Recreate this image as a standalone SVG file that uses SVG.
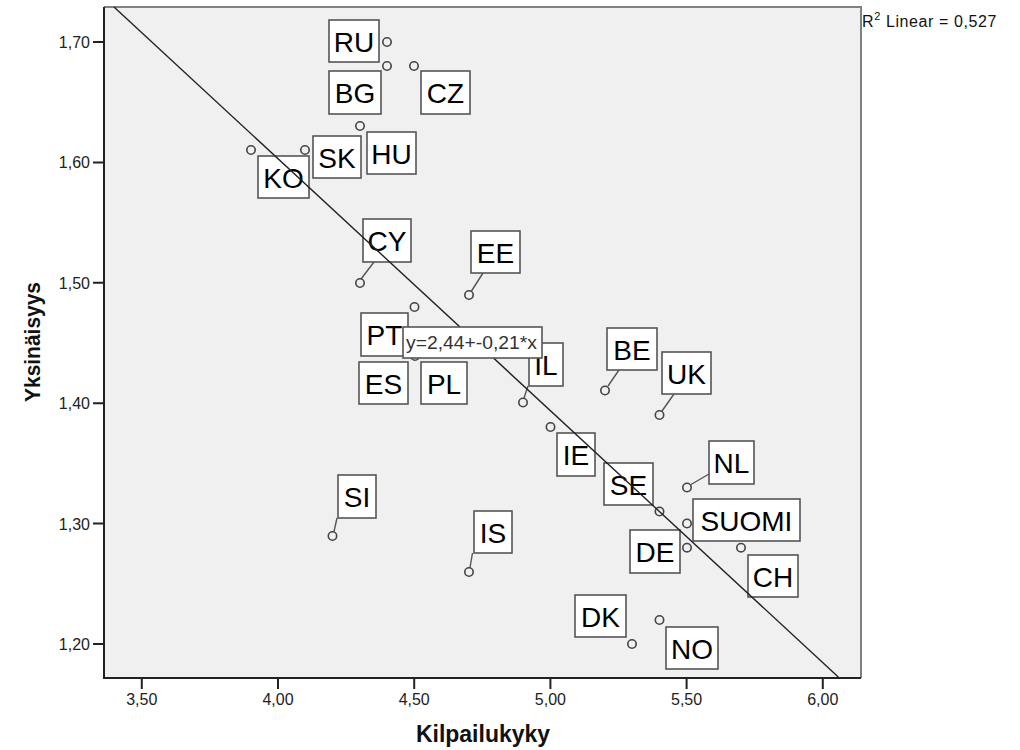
<svg xmlns="http://www.w3.org/2000/svg" width="1020" height="750" viewBox="0 0 1020 750">
<style>
.pt{fill:none;stroke:#444;stroke-width:1.6}
.lb rect{fill:#fff;stroke:#555;stroke-width:1.6}
.lb text{font-family:"Liberation Sans",Arial,sans-serif;font-size:28px;fill:#000;text-anchor:middle}
.tick{stroke:#222;stroke-width:2}
.tl{font-family:"Liberation Sans",Arial,sans-serif;font-size:16px;fill:#222}
.lead{stroke:#555;stroke-width:1.4;fill:none}
.title{font-family:"Liberation Sans",Arial,sans-serif;font-weight:bold;fill:#111}
</style>
<rect width="1020" height="750" fill="#fff"/>
<g id="frame">
<rect x="104" y="7" width="757" height="671" fill="#f0f0f0"/>
<path d="M104,7 H861 V678" fill="none" stroke="#808080" stroke-width="2"/>
<path d="M104,7 V678 H861" fill="none" stroke="#222" stroke-width="2"/>
</g>
<g id="y-axis">
<path class="tick" d="M93,42H104M93,162.4H104M93,282.8H104M93,403.2H104M93,523.6H104M93,644H104"/>
<g class="tl" text-anchor="end">
<text x="90" y="48">1,70</text>
<text x="90" y="168.4">1,60</text>
<text x="90" y="288.8">1,50</text>
<text x="90" y="409.2">1,40</text>
<text x="90" y="529.6">1,30</text>
<text x="90" y="650">1,20</text>
</g>
<text class="title" x="40" y="342" font-size="22" text-anchor="middle" textLength="120" lengthAdjust="spacingAndGlyphs" transform="rotate(-90 40 342)">Yksinäisyys</text>
</g>
<g id="x-axis">
<path class="tick" d="M141.8,678V689M278,678V689M414.2,678V689M550.4,678V689M686.6,678V689M822.8,678V689"/>
<g class="tl" text-anchor="middle">
<text x="141.8" y="705">3,50</text>
<text x="278" y="705">4,00</text>
<text x="414.2" y="705">4,50</text>
<text x="550.4" y="705">5,00</text>
<text x="686.6" y="705">5,50</text>
<text x="822.8" y="705">6,00</text>
</g>
<text class="title" x="483" y="742" font-size="23" text-anchor="middle">Kilpailukyky</text>
</g>
<g id="connectors">
<path class="lead" d="M361,279L374,262M471.5,291L483,273M524,398L528,386M608,386L619,370M662,411L674,394M691,484.5L709,474M334,531.5L337,518M470,567.5L472.5,553"/>
</g>
<g id="RU" class="lb"><circle class="pt" cx="387" cy="42" r="4.2"/><rect x="329" y="20" width="50" height="42"/><text x="354" y="51.5">RU</text></g>
<g id="BG" class="lb"><circle class="pt" cx="387" cy="66" r="4.2"/><rect x="329" y="71" width="52" height="43"/><text x="355" y="102.5">BG</text></g>
<g id="CZ" class="lb"><circle class="pt" cx="414" cy="66" r="4.2"/><rect x="421" y="71" width="49" height="43"/><text x="445.5" y="102.5">CZ</text></g>
<g id="HU" class="lb"><circle class="pt" cx="360" cy="126" r="4.2"/><rect x="367" y="132" width="49" height="42"/><text x="391.5" y="163.5">HU</text></g>
<g id="SK" class="lb"><circle class="pt" cx="305" cy="150" r="4.2"/><rect x="313" y="136" width="48" height="42"/><text x="337" y="167.5">SK</text></g>
<g id="KO" class="lb"><circle class="pt" cx="251" cy="150" r="4.2"/><rect x="258" y="156" width="51" height="42"/><text x="283.5" y="187.5">KO</text></g>
<g id="CY" class="lb"><circle class="pt" cx="360" cy="283" r="4.2"/><rect x="363" y="219" width="48" height="43"/><text x="387" y="250.5">CY</text></g>
<g id="EE" class="lb"><circle class="pt" cx="469" cy="295" r="4.2"/><rect x="471" y="231" width="49" height="42"/><text x="495.5" y="262.5">EE</text></g>
<g id="PT" class="lb"><circle class="pt" cx="414.5" cy="307" r="4.2"/><rect x="361" y="313" width="47" height="43"/><text x="384.5" y="344.5">PT</text></g>
<g id="ES" class="lb"><circle class="pt" cx="415" cy="356" r="4.2"/><rect x="359" y="362" width="49" height="42"/><text x="383.5" y="393.5">ES</text></g>
<g id="PL" class="lb"><rect x="421" y="362" width="46" height="42"/><text x="444" y="393.5">PL</text></g>
<g id="IL" class="lb"><circle class="pt" cx="523" cy="402.5" r="4.2"/><rect x="529" y="343" width="34" height="43"/><text x="546" y="374.5">IL</text></g>
<g id="IE" class="lb"><circle class="pt" cx="550.5" cy="427" r="4.2"/><rect x="557" y="433" width="38" height="43"/><text x="576" y="464.5">IE</text></g>
<g id="BE" class="lb"><circle class="pt" cx="605" cy="390.5" r="4.2"/><rect x="607" y="328" width="50" height="42"/><text x="632" y="359.5">BE</text></g>
<g id="UK" class="lb"><circle class="pt" cx="659.5" cy="415" r="4.2"/><rect x="662" y="352" width="49" height="42"/><text x="686.5" y="383.5">UK</text></g>
<g id="NL" class="lb"><circle class="pt" cx="687" cy="487.5" r="4.2"/><rect x="709" y="441" width="45" height="43"/><text x="731.5" y="472.5">NL</text></g>
<g id="SE" class="lb"><circle class="pt" cx="659.5" cy="511.5" r="4.2"/><rect x="604" y="463" width="49" height="42"/><text x="628.5" y="494.5">SE</text></g>
<g id="SUOMI" class="lb"><circle class="pt" cx="687" cy="523.5" r="4.2"/><rect x="693" y="499" width="107" height="42"/><text x="746.5" y="530.5">SUOMI</text></g>
<g id="DE" class="lb"><circle class="pt" cx="687" cy="547.7" r="4.2"/><rect x="630" y="530" width="50" height="43"/><text x="655" y="561.5">DE</text></g>
<g id="CH" class="lb"><circle class="pt" cx="741" cy="547.7" r="4.2"/><rect x="748" y="555" width="50" height="42"/><text x="773" y="586.5">CH</text></g>
<g id="SI" class="lb"><circle class="pt" cx="332.5" cy="536" r="4.2"/><rect x="338" y="475" width="38" height="43"/><text x="357" y="506.5">SI</text></g>
<g id="IS" class="lb"><circle class="pt" cx="469" cy="572" r="4.2"/><rect x="474" y="511" width="38" height="42"/><text x="493" y="542.5">IS</text></g>
<g id="DK" class="lb"><circle class="pt" cx="632" cy="644" r="4.2"/><rect x="575" y="595" width="51" height="42"/><text x="600.5" y="626.5">DK</text></g>
<g id="NO" class="lb"><circle class="pt" cx="659.5" cy="620" r="4.2"/><rect x="666" y="627" width="52" height="42"/><text x="692" y="658.5">NO</text></g>
<g id="fit-line">
<line x1="114" y1="7" x2="838.3" y2="677" stroke="#222" stroke-width="1.4"/>
</g>
<g id="equation">
<rect x="403" y="327" width="139" height="31" fill="#fff" stroke="#555" stroke-width="1.6"/>
<text x="406" y="349" font-family="Liberation Sans, Arial, sans-serif" font-size="19" fill="#333" textLength="131" lengthAdjust="spacingAndGlyphs">y=2,44+-0,21*x</text>
</g>
<g id="r2">
<text x="862" y="27" font-family="Liberation Sans, Arial, sans-serif" font-size="16" fill="#111" letter-spacing="0.6">R<tspan font-size="11" dy="-7">2</tspan><tspan dy="7"> Linear = 0,527</tspan></text>
</g>
</svg>
